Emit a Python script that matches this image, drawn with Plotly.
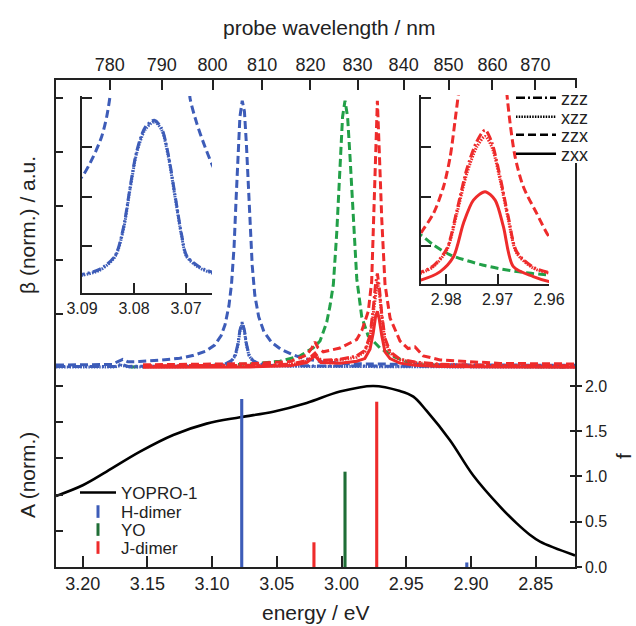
import plotly.graph_objects as go

# ---------------- data ----------------
HC2 = 2479.68  # 2*h*c in eV nm (probe wavelength <-> two-photon energy)

energy_ticks = [3.20, 3.15, 3.10, 3.05, 3.00, 2.95, 2.90, 2.85]
wavelength_ticks = [780, 790, 800, 810, 820, 830, 840, 850, 860, 870]
f_ticks = [0.0, 0.5, 1.0, 1.5, 2.0]

# absorbance of YOPRO-1 (normalized)
E_abs = [3.2206, 3.1995, 3.1815, 3.1557, 3.1300, 3.1042, 3.0784, 3.0527, 3.0269,
         3.0012, 2.9754, 2.9548, 2.9445, 2.9342, 2.9162, 2.8982, 2.8775, 2.8646,
         2.8543, 2.8466, 2.8196]
A_abs = [0.392, 0.453, 0.527, 0.637, 0.729, 0.792, 0.827, 0.858, 0.906,
         0.969, 1.000, 0.972, 0.941, 0.862, 0.700, 0.505, 0.333, 0.241,
         0.177, 0.140, 0.064]

# oscillator strengths
E_H = [3.0771, 2.9032]
f_H = [1.856, 0.05]
E_YO = [2.9973]
f_YO = [1.053]
E_J = [3.0213, 2.9728]
f_J = [0.273, 1.826]

# hyperpolarizability spectra (normalized), H-dimer
E_blue_zzx = [3.2206, 3.1850, 3.1770, 3.1728, 3.1690, 3.1650, 3.1560, 3.1400, 3.1250,
              3.1150, 3.1050, 3.0980, 3.0930, 3.0900, 3.0870, 3.0850, 3.0830, 3.0815,
              3.0800, 3.0785, 3.0767, 3.0750, 3.0735, 3.0720, 3.0705, 3.0690, 3.0670,
              3.0640, 3.0600, 3.0540, 3.0470, 3.0380, 3.0300, 3.0150, 2.9950, 2.9600,
              2.9200, 2.8800, 2.8196]
b_blue_zzx = [0.011, 0.011, 0.013, 0.024, 0.032, 0.023, 0.024, 0.029, 0.036,
              0.046, 0.062, 0.085, 0.12, 0.16, 0.23, 0.31, 0.45, 0.62,
              0.80, 0.93, 0.99, 0.95, 0.83, 0.66, 0.50, 0.38, 0.27,
              0.19, 0.135, 0.095, 0.07, 0.05, 0.036, 0.023, 0.016, 0.013,
              0.012, 0.011, 0.010]
E_blue_small = [3.2206, 3.1750, 3.1700, 3.1650, 3.1200, 3.1000, 3.0900, 3.0850, 3.0820,
                3.0800, 3.0785, 3.0767, 3.0750, 3.0735, 3.0715, 3.0685, 3.0640, 3.0550,
                3.0300, 3.0000, 2.9500, 2.9060, 2.9030, 2.9000, 2.8196]
b_blue_zzz = [0.006, 0.006, 0.014, 0.006, 0.007, 0.009, 0.014, 0.028, 0.05,
              0.09, 0.14, 0.17, 0.14, 0.09, 0.05, 0.028, 0.016, 0.01,
              0.008, 0.007, 0.006, 0.006, 0.012, 0.006, 0.005]
b_blue_xzz = [0.004, 0.004, 0.010, 0.004, 0.005, 0.007, 0.012, 0.025, 0.046,
              0.085, 0.135, 0.165, 0.135, 0.085, 0.046, 0.025, 0.014, 0.008,
              0.006, 0.005, 0.004, 0.004, 0.010, 0.004, 0.004]

# YO monomer
E_green = [3.1634, 3.1093, 3.0707, 3.0475, 3.0320, 3.0218, 3.0166, 3.0114, 3.0089,
           3.0063, 3.0037, 3.0011, 2.9992, 2.9973, 2.9953, 2.9934, 2.9908, 2.9882,
           2.9844, 2.9795, 2.9702, 2.9587, 2.9496, 2.9393, 2.9162, 2.8775, 2.8273]
b_green = [0.004, 0.008, 0.015, 0.025, 0.045, 0.075, 0.10, 0.17, 0.23,
           0.31, 0.50, 0.78, 0.93, 0.99, 0.93, 0.78, 0.53, 0.33,
           0.19, 0.12, 0.074, 0.04, 0.023, 0.013, 0.007, 0.005, 0.004]

# J-dimer
E_red_zzx = [3.1534, 3.1093, 3.0707, 3.0398, 3.0269, 3.0228, 3.0205, 3.0182, 3.0141,
             3.0012, 2.9883, 2.9842, 2.9793, 2.9767, 2.9754, 2.9737, 2.9723, 2.9708,
             2.9689, 2.9664, 2.9625, 2.9548, 2.9486, 2.9432, 2.9368, 2.9239, 2.9032,
             2.8775, 2.8196]
b_red_zzx = [0.012, 0.014, 0.016, 0.024, 0.048, 0.075, 0.097, 0.075, 0.06,
             0.074, 0.105, 0.14, 0.21, 0.32, 0.52, 0.80, 0.99, 0.80,
             0.55, 0.31, 0.185, 0.10, 0.072, 0.078, 0.045, 0.03, 0.023,
             0.017, 0.015]
E_red_small = [3.1534, 3.0707, 3.0398, 3.0269, 3.0205, 3.0160, 3.0012, 2.9883, 2.9820,
               2.9780, 2.9755, 2.9737, 2.9723, 2.9708, 2.9689, 2.9664, 2.9625, 2.9548,
               2.9432, 2.9239, 2.8775, 2.8196]
b_red_zzz = [0.008, 0.010, 0.014, 0.028, 0.055, 0.028, 0.032, 0.045, 0.065,
             0.12, 0.22, 0.31, 0.35, 0.30, 0.20, 0.11, 0.06, 0.033,
             0.022, 0.014, 0.009, 0.008]
b_red_xzz = [0.006, 0.008, 0.012, 0.025, 0.05, 0.025, 0.03, 0.04, 0.06,
             0.11, 0.20, 0.28, 0.32, 0.28, 0.19, 0.10, 0.055, 0.03,
             0.02, 0.012, 0.008, 0.007]
b_red_zxx = [0.003, 0.004, 0.008, 0.02, 0.045, 0.02, 0.018, 0.025, 0.035,
             0.07, 0.13, 0.19, 0.21, 0.18, 0.12, 0.06, 0.035, 0.018,
             0.01, 0.006, 0.004, 0.003]

# left inset (H-dimer, zoomed)
E_li_xzz = [3.09115, 3.08975, 3.08654, 3.08365, 3.08206, 3.08077, 3.07948, 3.07789, 3.07610,
            3.07467, 3.07340, 3.07212, 3.07083, 3.06987, 3.06731, 3.06494, 3.06385]
v_li_xzz = [0.39, 0.41, 0.51, 0.78, 1.32, 2.14, 2.88, 3.35, 3.52,
            3.35, 2.81, 2.00, 1.19, 0.78, 0.55, 0.45, 0.43]
v_li_zzz = [0.41, 0.43, 0.53, 0.80, 1.36, 2.18, 2.92, 3.40, 3.55,
            3.38, 2.85, 2.04, 1.22, 0.80, 0.57, 0.47, 0.45]
E_li_zzx = [3.09115, 3.08994, 3.08783, 3.08621, 3.08525, 3.08462, 3.08423,
            3.06962, 3.06923, 3.06794, 3.06635, 3.06494, 3.06385]
v_li_zzx = [2.30, 2.41, 2.81, 3.22, 3.62, 4.03, 4.50,
            4.50, 4.00, 3.49, 3.01, 2.64, 2.40]

# right inset (J-dimer + YO, zoomed)
E_ri_zzx = [2.98602, 2.98491, 2.98247, 2.98052, 2.97922, 2.97825, 2.97760, 2.97700,
            2.96860, 2.96821, 2.96757, 2.96660, 2.96499, 2.96239, 2.96000, 2.95883]
v_ri_zzx = [1.05, 1.26, 1.66, 2.20, 2.81, 3.56, 4.10, 4.60,
            4.60, 4.10, 3.49, 2.81, 2.20, 1.66, 1.19, 1.08]
E_ri_small = [2.98602, 2.98491, 2.98247, 2.97986, 2.97792, 2.97598, 2.97404, 2.97243,
              2.97113, 2.96951, 2.96790, 2.96627, 2.96305, 2.96000, 2.95883]
v_ri_xzz = [0.42, 0.45, 0.58, 0.92, 1.66, 2.47, 3.01, 3.22,
            3.01, 2.34, 1.53, 0.85, 0.55, 0.45, 0.43]
v_ri_zzz = [0.44, 0.47, 0.60, 0.95, 1.72, 2.56, 3.12, 3.35,
            3.10, 2.40, 1.58, 0.88, 0.57, 0.46, 0.44]
E_ri_zxx = [2.98602, 2.98491, 2.98117, 2.97858, 2.97664, 2.97470, 2.97243, 2.97048,
            2.96887, 2.96693, 2.96305, 2.96000, 2.95883]
v_ri_zxx = [0.29, 0.31, 0.48, 0.78, 1.46, 1.93, 2.10, 1.93,
            1.39, 0.58, 0.38, 0.28, 0.27]
E_ri_green = [2.98602, 2.98491, 2.98247, 2.97922, 2.97276, 2.96627, 2.96000, 2.95883]
v_ri_green = [1.28, 1.22, 1.02, 0.82, 0.61, 0.48, 0.41, 0.40]

pol_labels = ["zzz", "xzz", "zzx", "zxx"]
species_labels = ["H-dimer", "YO", "J-dimer"]

# ---------------- styles ----------------
BLUE = "#3d5cb8"
GREEN = "#22a048"
GREEN_BAR = "#1f6e36"
RED = "#ee2b2b"
INK = "#222222"
FONT = "Liberation Sans, Arial, Helvetica, sans-serif"

DASH = {"zzz": "9px,3px,2px,3px", "xzz": "1.5px,1.2px", "zzx": "8px,4px", "zxx": "solid"}
LW = 3

W, H = 636, 626
ML, MR, MT, MB = 56, 61, 80, 59
PW, PH = W - ML - MR, H - MT - MB


def px_x(x):
    return (x - ML) / PW


def px_y(y):
    return (H - MB - y) / PH


fig = go.Figure()


def spec(x, y, color, kind, xa="x", ya="y3", width=LW, smooth=False):
    line = dict(color=color, width=width, dash=DASH[kind])
    if smooth:
        line.update(shape="spline", smoothing=0.8)
    fig.add_trace(go.Scatter(x=x, y=y, mode="lines", xaxis=xa, yaxis=ya, line=line,
                             showlegend=False, hoverinfo="skip"))


# absorbance
fig.add_trace(go.Scatter(x=E_abs, y=A_abs, mode="lines", name="YOPRO-1",
                         line=dict(color="black", width=2.6, shape="spline", smoothing=1.0),
                         xaxis="x", yaxis="y", legend="legend5"))

# invisible anchors so the secondary axes get drawn
fig.add_trace(go.Scatter(x=[None], y=[None], xaxis="x2", yaxis="y", showlegend=False,
                         hoverinfo="skip"))
fig.add_trace(go.Scatter(x=[None], y=[None], xaxis="x", yaxis="y6", showlegend=False,
                         hoverinfo="skip"))

# oscillator strengths as thin bars
for xs, ys, col in [(E_H, f_H, BLUE), (E_YO, f_YO, GREEN_BAR), (E_J, f_J, RED)]:
    fig.add_trace(go.Bar(x=xs, y=ys, width=0.0024, marker=dict(color=col, line=dict(width=0)),
                         xaxis="x", yaxis="y2", showlegend=False, hoverinfo="skip"))

# legend entries for the bars
for i, (name, col) in enumerate(zip(species_labels, [BLUE, GREEN_BAR, RED])):
    fig.add_trace(go.Scatter(x=[None], y=[None], mode="markers", name=name,
                             marker=dict(symbol="line-ns", size=9, color=col,
                                         line=dict(color=col, width=3)),
                             xaxis="x", yaxis="y2", legend=f"legend{6 + i}"))

# main spectra
spec(E_green, b_green, GREEN, "zzx")
spec(E_blue_small, b_blue_xzz, BLUE, "xzz")
spec(E_blue_small, b_blue_zzz, BLUE, "zzz")
spec(E_blue_zzx, b_blue_zzx, BLUE, "zzx")
spec(E_red_small, b_red_xzz, RED, "xzz")
spec(E_red_small, b_red_zzz, RED, "zzz")
spec(E_red_small, b_red_zxx, RED, "zxx")
spec(E_red_zzx, b_red_zzx, RED, "zzx")

# left inset
spec(E_li_xzz, v_li_xzz, BLUE, "xzz", "x3", "y4", smooth=True)
spec(E_li_xzz, v_li_zzz, BLUE, "zzz", "x3", "y4", smooth=True)
spec(E_li_zzx, v_li_zzx, BLUE, "zzx", "x3", "y4", smooth=True)

# right inset
spec(E_ri_green, v_ri_green, GREEN, "zzx", "x4", "y5", smooth=True)
spec(E_ri_small, v_ri_xzz, RED, "xzz", "x4", "y5", smooth=True)
spec(E_ri_small, v_ri_zzz, RED, "zzz", "x4", "y5", smooth=True)
spec(E_ri_zxx, v_ri_zxx, RED, "zxx", "x4", "y5", smooth=True)
spec(E_ri_zzx, v_ri_zzx, RED, "zzx", "x4", "y5", smooth=True)

# polarization legend (one legend per row for tight spacing)
for i, k in enumerate(pol_labels):
    fig.add_trace(go.Scatter(x=[None], y=[None], mode="lines", name=k,
                             line=dict(color="black", width=2.5, dash=DASH[k]),
                             xaxis="x", yaxis="y3", legend="legend" if i == 0 else f"legend{i + 1}"))

# ---------------- layout ----------------
XR = [3.2206, 2.8196]
A_TOP = 2.69        # A range top (A=1 at 386 px)
B_RANGE = [-0.737, 1.0667]

axis_common = dict(showline=True, linecolor=INK, linewidth=1.5, showgrid=False,
                   zeroline=False, tickcolor=INK, tickwidth=1.5)

legends = {}
pol_rows = [98, 117, 135, 154]
for i, yc in enumerate(pol_rows):
    key = "legend" if i == 0 else f"legend{i + 1}"
    legends[key] = dict(x=px_x(511), y=px_y(yc), xanchor="left", yanchor="middle",
                        bgcolor="rgba(0,0,0,0)", font=dict(size=18), itemwidth=40, borderwidth=0)
spec_rows = [493, 512, 530, 548]
for i, yc in enumerate(spec_rows):
    legends[f"legend{5 + i}"] = dict(x=px_x(75), y=px_y(yc), xanchor="left", yanchor="middle",
                                     bgcolor="rgba(0,0,0,0)", font=dict(size=17), itemwidth=36,
                                     borderwidth=0)

fig.update_layout(
    width=W, height=H,
    margin=dict(l=ML, r=MR, t=MT, b=MB),
    paper_bgcolor="white", plot_bgcolor="rgba(0,0,0,0)",
    font=dict(family=FONT, color=INK, size=18),
    barmode="overlay",
    xaxis=dict(domain=[0, 1], range=XR, anchor="y", tickvals=energy_ticks,
               ticktext=[f"{v:.2f}" for v in energy_ticks], ticks="inside", ticklen=11,
               tickfont=dict(size=18), **axis_common),
    xaxis2=dict(overlaying="x", side="top", anchor="y", range=XR,
                tickvals=[HC2 / w for w in wavelength_ticks],
                ticktext=[str(w) for w in wavelength_ticks], ticks="inside", ticklen=10,
                tickfont=dict(size=18), **axis_common),
    yaxis=dict(domain=[0, 1], range=[0, A_TOP], anchor="x", tickvals=[0.2, 0.4, 0.6, 0.8, 1.0],
               showticklabels=False, ticks="inside", ticklen=7, **axis_common),
    yaxis2=dict(overlaying="y", side="right", anchor="x", range=[0, 2 * A_TOP], tickvals=f_ticks,
                ticktext=[f"{v:.1f}" for v in f_ticks], ticks="outside", ticklen=5,
                tickfont=dict(size=16), **axis_common),
    yaxis3=dict(overlaying="y", side="left", anchor="x", range=B_RANGE,
                tickvals=[0.2, 0.4, 0.6, 0.8, 1.0], showticklabels=False, ticks="inside",
                ticklen=7, showline=False, showgrid=False, zeroline=False,
                tickcolor=INK, tickwidth=1.5),
    yaxis6=dict(overlaying="y", side="right", anchor="x", range=[0, 2 * A_TOP], tickvals=f_ticks,
                showticklabels=False, ticks="inside", ticklen=5, showline=False, showgrid=False,
                zeroline=False, tickcolor=INK, tickwidth=1.5),
    # left inset
    xaxis3=dict(domain=[px_x(82), px_x(212)], range=[3.09, 3.065], anchor="y4",
                tickvals=[3.09, 3.08, 3.07], ticktext=["3.09", "3.08", "3.07"],
                ticks="inside", ticklen=10, tickfont=dict(size=16), **axis_common),
    yaxis4=dict(domain=[px_y(293), px_y(96)], range=[0.047, 4.04], anchor="x3",
                tickvals=[1, 2, 3, 4], showticklabels=False, ticks="inside", ticklen=10,
                **axis_common),
    # right inset
    xaxis4=dict(domain=[px_x(421), px_x(549)], range=[2.9849, 2.96], anchor="y5",
                tickvals=[2.98, 2.97, 2.96], ticktext=["2.98", "2.97", "2.96"],
                ticks="inside", ticklen=10, tickfont=dict(size=16), **axis_common),
    yaxis5=dict(domain=[px_y(284), px_y(95)], range=[0.229, 4.06], anchor="x4",
                tickvals=[1, 2, 3, 4], showticklabels=False, ticks="inside", ticklen=10,
                **axis_common),
    # white gap in the right frame line behind the polarization legend
    shapes=[dict(type="rect", xref="paper", yref="paper", layer="above",
                 x0=px_x(569), x1=px_x(582), y0=px_y(163), y1=px_y(88),
                 fillcolor="white", line=dict(width=0))],
    annotations=[
        dict(text="probe wavelength / nm", x=px_x(329), y=px_y(27),
             xref="paper", yref="paper", showarrow=False, font=dict(size=21),
             xanchor="center", yanchor="middle"),
        dict(text="energy / eV", x=px_x(315), y=px_y(612),
             xref="paper", yref="paper", showarrow=False, font=dict(size=21),
             xanchor="center", yanchor="middle"),
        dict(text="β (norm.) / a.u.", x=px_x(27), y=px_y(225),
             xref="paper", yref="paper", showarrow=False, font=dict(size=21),
             textangle=-90, xanchor="center", yanchor="middle"),
        dict(text="A (norm.)", x=px_x(27), y=px_y(475),
             xref="paper", yref="paper", showarrow=False, font=dict(size=21),
             textangle=-90, xanchor="center", yanchor="middle"),
        dict(text="f", x=px_x(623), y=px_y(456),
             xref="paper", yref="paper", showarrow=False, font=dict(size=21),
             textangle=-90, xanchor="center", yanchor="middle"),
    ],
    **legends,
)

fig.write_html("out.html", config={"displayModeBar": False},
               post_script="document.body.style.margin='0px';")
